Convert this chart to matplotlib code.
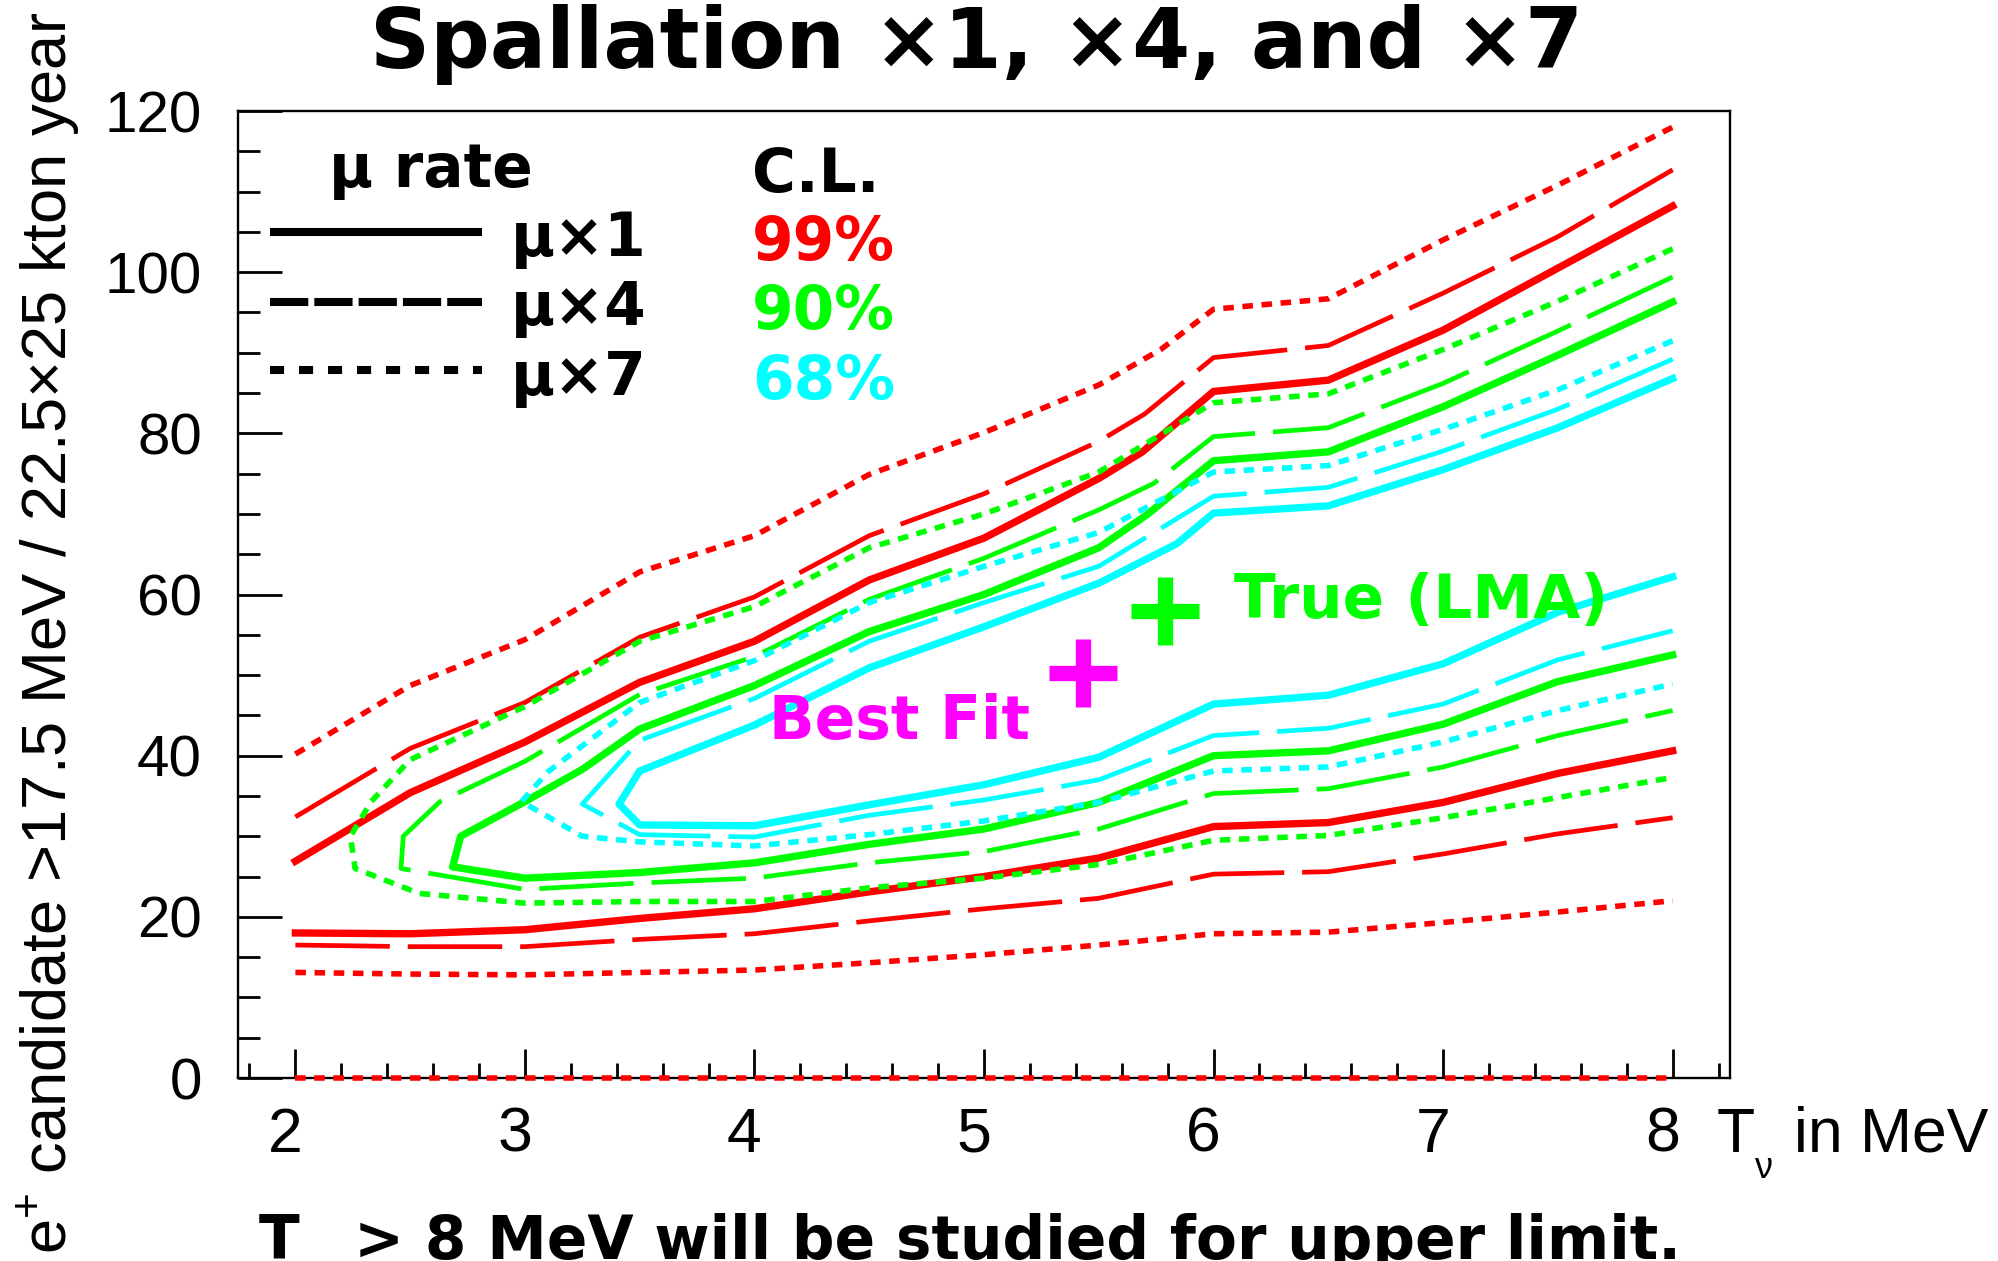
import matplotlib.pyplot as plt
from matplotlib.transforms import ScaledTranslation

plt.rcParams['font.family'] = ['Liberation Sans', 'DejaVu Sans']
plt.rcParams['mathtext.fontset'] = 'custom'
plt.rcParams['mathtext.rm'] = 'Liberation Sans'
plt.rcParams['mathtext.it'] = 'Liberation Sans:italic'

# --- contour data: upper / lower branch of each C.L. region -------------
# 99% C.L., spallation x1
red1_up_x = [2, 2.5, 3, 3.5, 4, 4.5, 5, 5.5, 5.69, 6, 6.5, 7, 7.5, 8]
red1_up_y = [26.9, 35.4, 41.7, 49.1, 54.2, 61.8, 67.0, 74.4, 77.7, 85.2, 86.6, 92.8, 100.5, 108.2]
red1_lo_x = [2, 2.5, 3, 3.5, 4, 4.5, 5, 5.5, 6, 6.5, 7, 7.5, 8]
red1_lo_y = [18.0, 17.9, 18.4, 19.8, 21.0, 23.1, 25.0, 27.3, 31.2, 31.7, 34.2, 37.8, 40.6]
# 99% C.L., spallation x4
red4_up_x = [2, 2.5, 3, 3.5, 4, 4.5, 5, 5.5, 5.7, 6, 6.5, 7, 7.5, 8]
red4_up_y = [32.4, 40.9, 46.6, 54.7, 59.7, 67.3, 72.5, 79.0, 82.4, 89.4, 90.9, 97.4, 104.4, 112.7]
red4_lo_x = [2, 2.5, 3, 3.5, 4, 4.5, 5, 5.5, 6, 6.5, 7, 7.5, 8]
red4_lo_y = [16.5, 16.3, 16.3, 17.2, 17.9, 19.5, 21.0, 22.3, 25.3, 25.6, 27.8, 30.3, 32.3]
# 99% C.L., spallation x7
red7_up_x = [2, 2.5, 3, 3.5, 4, 4.5, 5, 5.5, 5.77, 6, 6.5, 7, 7.5, 8]
red7_up_y = [40.2, 48.7, 54.4, 62.8, 67.3, 74.9, 80.1, 86.0, 90.4, 95.4, 96.7, 104.0, 110.8, 118.0]
red7_lo_x = [2, 2.5, 3, 3.5, 4, 4.5, 5, 5.5, 6, 6.5, 7, 7.5, 8]
red7_lo_y = [13.1, 12.9, 12.8, 13.1, 13.4, 14.3, 15.3, 16.5, 17.9, 18.1, 19.3, 20.6, 22.0]
red7_floor_x = [2, 8]
red7_floor_y = [0, 0]

# 90% C.L.
grn1_up_x = [2.685, 2.72, 3.0, 3.25, 3.5, 4.0, 4.5, 5.0, 5.5, 5.71, 6.0, 6.5, 7.0, 7.5, 8.0]
grn1_up_y = [26.2, 30.0, 34.3, 38.3, 43.3, 48.7, 55.4, 60.0, 65.8, 69.9, 76.6, 77.7, 83.3, 89.7, 96.3]
grn1_lo_x = [2.685, 3.0, 3.5, 4.0, 4.5, 5.0, 5.5, 6.0, 6.5, 7.0, 7.5, 8.0]
grn1_lo_y = [26.2, 24.8, 25.5, 26.7, 29.0, 30.9, 34.2, 40.0, 40.6, 43.9, 49.2, 52.5]
grn4_up_x = [2.46, 2.47, 2.63, 3.0, 3.5, 4.0, 4.5, 5.0, 5.5, 5.74, 6.0, 6.5, 7.0, 7.5, 8.0]
grn4_up_y = [26.0, 30.0, 34.3, 39.3, 47.6, 52.3, 59.4, 64.5, 70.5, 73.8, 79.6, 80.7, 86.2, 92.7, 99.4]
grn4_lo_x = [2.46, 3.0, 3.5, 4.0, 4.5, 5.0, 5.5, 6.0, 6.5, 7.0, 7.5, 8.0]
grn4_lo_y = [26.0, 23.4, 24.2, 24.8, 26.7, 28.1, 30.9, 35.3, 35.9, 38.6, 42.5, 45.6]
grn7_up_x = [2.26, 2.24, 2.33, 2.5, 3.0, 3.5, 4.0, 4.5, 5.0, 5.5, 5.75, 6.0, 6.5, 7.0, 7.5, 8.0]
grn7_up_y = [26.0, 30.0, 34.3, 39.5, 46.1, 54.2, 58.5, 65.8, 70.0, 75.2, 79.5, 83.8, 84.9, 90.4, 96.4, 102.9]
grn7_lo_x = [2.26, 2.54, 3.0, 3.5, 4.0, 4.5, 5.0, 5.5, 6.0, 6.5, 7.0, 7.5, 8.0]
grn7_lo_y = [26.0, 22.9, 21.7, 21.9, 21.9, 23.6, 24.8, 26.5, 29.5, 30.1, 32.3, 34.8, 37.3]

# 68% C.L.
cyn1_up_x = [3.41, 3.5, 4.0, 4.5, 5.0, 5.5, 5.84, 6.0, 6.5, 7.0, 7.5, 8.0]
cyn1_up_y = [34.0, 38.1, 43.8, 50.9, 56.0, 61.4, 66.3, 70.1, 71.0, 75.5, 80.7, 86.8]
cyn1_lo_x = [3.41, 3.5, 4.0, 4.5, 5.0, 5.5, 6.0, 6.5, 7.0, 7.5, 8.0]
cyn1_lo_y = [34.0, 31.4, 31.3, 33.9, 36.4, 39.8, 46.4, 47.5, 51.4, 57.8, 62.2]
cyn4_up_x = [3.25, 3.5, 4.0, 4.5, 5.0, 5.5, 6.0, 6.5, 7.0, 7.5, 8.0]
cyn4_up_y = [34.0, 41.9, 47.1, 54.2, 59.0, 63.5, 72.2, 73.3, 77.8, 83.0, 89.2]
cyn4_lo_x = [3.25, 3.5, 4.0, 4.5, 5.0, 5.5, 6.0, 6.5, 7.0, 7.5, 8.0]
cyn4_lo_y = [34.0, 30.2, 29.9, 32.6, 34.5, 37.0, 42.5, 43.4, 46.4, 51.9, 55.5]
cyn7_up_x = [2.985, 3.1, 3.5, 4.0, 4.5, 5.0, 5.5, 6.0, 6.5, 7.0, 7.5, 8.0]
cyn7_up_y = [34.3, 38.0, 46.6, 51.8, 59.0, 63.5, 67.7, 75.2, 76.0, 80.5, 85.4, 91.5]
cyn7_lo_x = [2.985, 3.25, 3.5, 4.0, 4.5, 5.0, 5.5, 6.0, 6.5, 7.0, 7.5, 8.0]
cyn7_lo_y = [34.3, 30.0, 29.3, 28.8, 30.2, 31.9, 34.2, 38.1, 38.6, 41.7, 45.6, 48.9]

# fit points (T_nu in MeV, events)
best_fit = (5.43, 50.2)
true_lma = (5.79, 58.0)

x_ticks = [2, 3, 4, 5, 6, 7, 8]
y_ticks = [0, 20, 40, 60, 80, 100, 120]
legend_rates = ['μ×1', 'μ×4', 'μ×7']
legend_cls = ['99%', '90%', '68%']

# --- styles --------------------------------------------------------------
RED, GREEN, CYAN, MAGENTA = '#ff0000', '#00ff00', '#00ffff', '#ff00ff'
sty1 = dict(ls='-', lw=5.3)
sty4 = dict(ls=(0, (20, 3.8)), lw=3.4)
sty7 = dict(ls=(0, (1.9, 1.55)), lw=4.0)
BOLD = dict(family='DejaVu Sans', fontweight='bold')

fig = plt.figure(figsize=(19.98, 12.61), dpi=100)
ax = fig.add_axes([0.11912, 0.14512, 0.74675, 0.76685])
ax.set_xlim(1.75, 8.25)
ax.set_ylim(0, 120)

# open contours (red reaches the left edge of the scan)
for (ux, uy, lx, ly), sty in [((red1_up_x, red1_up_y, red1_lo_x, red1_lo_y), sty1),
                              ((red4_up_x, red4_up_y, red4_lo_x, red4_lo_y), sty4),
                              ((red7_up_x, red7_up_y, red7_lo_x, red7_lo_y), sty7)]:
    ax.plot(ux, uy, color=RED, **sty)
    ax.plot(lx, ly, color=RED, **sty)
ax.plot(red7_floor_x, red7_floor_y, color=RED, clip_on=False, zorder=5, **sty7)

# closed contours: walk the upper branch backwards, then the lower branch
closed = [
    (grn1_up_x, grn1_up_y, grn1_lo_x, grn1_lo_y, GREEN, sty1),
    (grn4_up_x, grn4_up_y, grn4_lo_x, grn4_lo_y, GREEN, sty4),
    (grn7_up_x, grn7_up_y, grn7_lo_x, grn7_lo_y, GREEN, sty7),
    (cyn1_up_x, cyn1_up_y, cyn1_lo_x, cyn1_lo_y, CYAN, sty1),
    (cyn4_up_x, cyn4_up_y, cyn4_lo_x, cyn4_lo_y, CYAN, sty4),
    (cyn7_up_x, cyn7_up_y, cyn7_lo_x, cyn7_lo_y, CYAN, sty7),
]
for ux, uy, lx, ly, col, sty in closed:
    ax.plot(ux[::-1] + lx[1:], uy[::-1] + ly[1:], color=col, **sty)

# best fit and true point
ax.plot(*best_fit, marker='+', ms=49, mew=11, color=MAGENTA, zorder=6)
ax.plot(*true_lma, marker='+', ms=49, mew=11, color=GREEN, zorder=6)
ax.text(4.064, 42.1, 'Best Fit', color=MAGENTA, fontsize=43, zorder=7, **BOLD)
ax.text(6.089, 57.1, 'True (LMA)', color=GREEN, fontsize=44, zorder=7, **BOLD)

# hand-made legend
ax.text(2.147, 110.6, 'μ rate', fontsize=43, **BOLD)
ax.text(3.99, 110.0, 'C.L.', fontsize=43, **BOLD)
leg_y = [105.0, 96.3, 87.8]
leg_styles = [(0, ()), (0, (4.75, 0.75)), (0, (1.75, 1.85))]
for ly, ls, lab, cl, col, tb in zip(leg_y, leg_styles, legend_rates, legend_cls,
                                   [RED, GREEN, CYAN], [102.0, 93.4, 84.7]):
    ax.plot([1.889, 2.813], [ly, ly], color='black', lw=5.8, ls=ls)
    ax.text(2.94, tb, lab, fontsize=43, **BOLD)
    ax.text(3.99, tb - 0.5, cl, color=col, fontsize=43, **BOLD)

# axes frame and ticks
for side in ['left', 'bottom', 'right', 'top']:
    ax.spines[side].set_linewidth(1.7)
ax.set_xticks(x_ticks)
ax.set_xticks([1.8 + 0.2 * i for i in range(33)], minor=True)
ax.set_yticks(y_ticks)
ax.set_yticks(list(range(0, 121, 5)), minor=True)
ax.tick_params(axis='both', which='both', direction='in', width=2)
ax.tick_params(axis='y', which='major', length=32, pad=26, labelsize=42)
ax.tick_params(axis='y', which='minor', length=16)
ax.tick_params(axis='x', which='major', length=21, pad=20, labelsize=45)
ax.tick_params(axis='x', which='minor', length=11)
shift = ScaledTranslation(-0.10, 0, fig.dpi_scale_trans)
for lab in ax.get_xticklabels():
    lab.set_transform(lab.get_transform() + shift)

# x axis title, placed to the right of the last tick label
fig.text(1717 / 1998, 1 - 1152 / 1261, 'T', fontsize=45, va='baseline')
fig.text(1754 / 1998, 1 - 1178 / 1261, 'ν', fontsize=26, va='baseline')
fig.text(1794 / 1998, 1 - 1152 / 1261, 'in MeV', fontsize=45, va='baseline')

fig.text(0.0245, 0.498, r'e$^{+}$ candidate >17.5 MeV / 22.5×25 kton year',
         rotation=90, fontsize=45.5, ha='center', va='center')

fig.text(0.4885, 1 - 68.3 / 1261, 'Spallation ×1, ×4, and ×7', ha='center',
         va='baseline', fontsize=60, **BOLD)

# note below the plot, running off the bottom edge
fig.text(259 / 1998, 1 - 1259 / 1261, 'T', fontsize=43, va='baseline', **BOLD)
fig.text(354 / 1998, 1 - 1259 / 1261, '> 8 MeV will be studied for upper limit.',
         fontsize=43, va='baseline', **BOLD)

fig.savefig('out.png', dpi=100)
